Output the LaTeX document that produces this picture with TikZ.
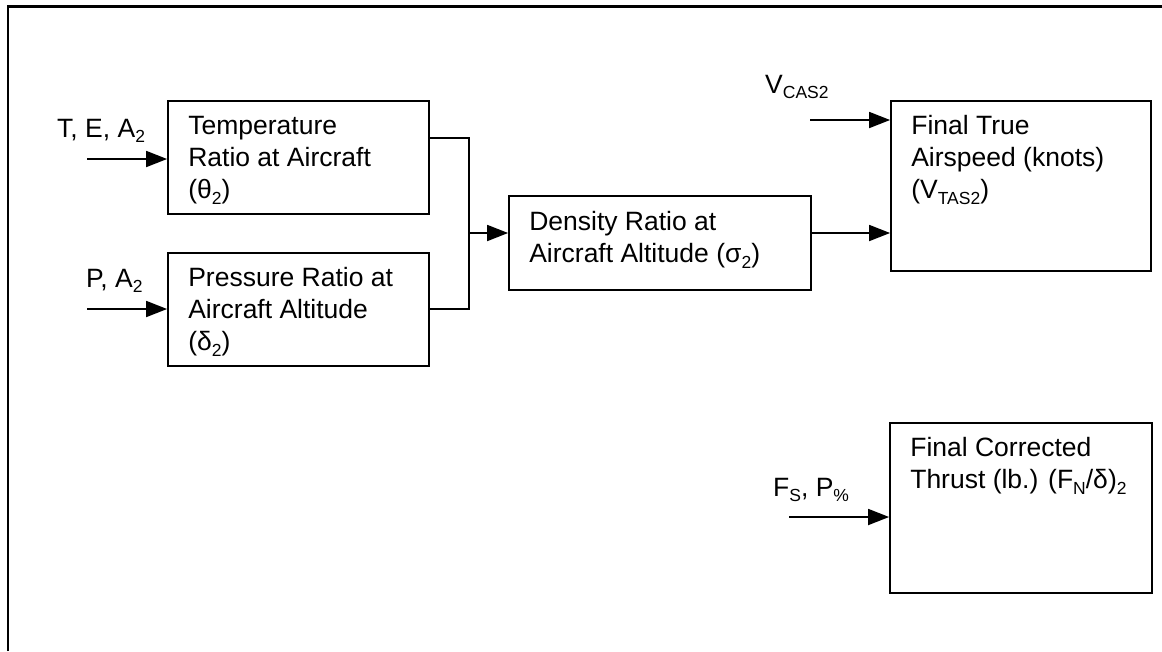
\documentclass[tikz,border=0pt]{standalone}
\usepackage{fontspec}
\setmainfont{Liberation Sans}
\usetikzlibrary{arrows.meta,calc}
\newcommand\mysub[1]{\raisebox{-0.22em}{\fontsize{17.5}{17.5}\selectfont #1}}
\newcommand\topstrut{\rule{0pt}{26pt}}
\begin{document}
\begin{tikzpicture}[x=1pt,y=-1pt,
  box/.style={draw,line width=1.8pt,inner sep=0pt,rectangle},
  txt/.style={anchor=north west,inner sep=0pt,align=left,font=\fontsize{26.5}{32.2}\selectfont},
  lbl/.style={anchor=base west,inner sep=0pt,font=\fontsize{26.5}{32.2}\selectfont},
  conn/.style={line width=1.8pt},
  arr/.style={line width=1.8pt,-{Triangle[length=21pt,width=16pt]}}]
\useasboundingbox (0,0) rectangle (1162,651);
% frame
\draw[line width=2.2pt] (8,651) -- (8,6.5) -- (1162,6.5);
% boxes
\node[box,minimum width=261pt,minimum height=113pt] (temp) at (298.5,157.5) {};
\node[box,minimum width=261pt,minimum height=113pt] (pres) at (298.5,309.5) {};
\node[box,minimum width=302pt,minimum height=94pt] (dens) at (660,243) {};
\node[box,minimum width=260pt,minimum height=170pt] (ftas) at (1021,186) {};
\node[box,minimum width=262pt,minimum height=170pt] (fct) at (1021,508) {};
% box texts
\node[txt] (tempT) at ($(temp.north west)+(21,8)$) {\topstrut Temperature\\Ratio at Aircraft\\(θ\mysub{2})};
\node[txt] (presT) at ($(pres.north west)+(21,8)$) {\topstrut Pressure Ratio at\\Aircraft Altitude\\(δ\mysub{2})};
\node[txt] (densT) at ($(dens.north west)+(21,9)$) {\topstrut Density Ratio at\\Aircraft Altitude (σ\mysub{2})};
\node[txt] (ftasT) at ($(ftas.north west)+(21,8)$) {\topstrut Final True\\Airspeed (knots)\\(V\mysub{TAS2})};
\node[txt] (fctT) at ($(fct.north west)+(21,8)$) {\topstrut Final Corrected\\Thrust (lb.) (F\mysub{N}/δ)\mysub{2}};
% input labels
\node[lbl] (l1) at (57,137) {T, E, A\mysub{2}};
\node[lbl] (l2) at (86,287) {P, A\mysub{2}};
\node[lbl] (l3) at (765,93) {V\mysub{CAS2}};
\node[lbl] (l4) at (773,496) {F\mysub{S}, P\mysub{\%}};
% coordinates
\coordinate (in1) at (87,159);
\coordinate (in2) at (87,309);
\coordinate (in3) at (810,120);
\coordinate (in4) at (789,517);
\coordinate (j1) at (469,138);
\coordinate (j2) at (469,309);
\coordinate (jm) at (469,233);
% connectors
\draw[arr] (in1) -- (in1 -| temp.west);
\draw[arr] (in2) -- (in2 -| pres.west);
\draw[conn] (j1 -| temp.east) -- (j1) -- (j2) -- (j2 -| pres.east);
\draw[arr] (jm) -- (jm -| dens.west);
\draw[arr] (jm -| dens.east) -- (jm -| ftas.west);
\draw[arr] (in3) -- (in3 -| ftas.west);
\draw[arr] (in4) -- (in4 -| fct.west);
\end{tikzpicture}
\end{document}
